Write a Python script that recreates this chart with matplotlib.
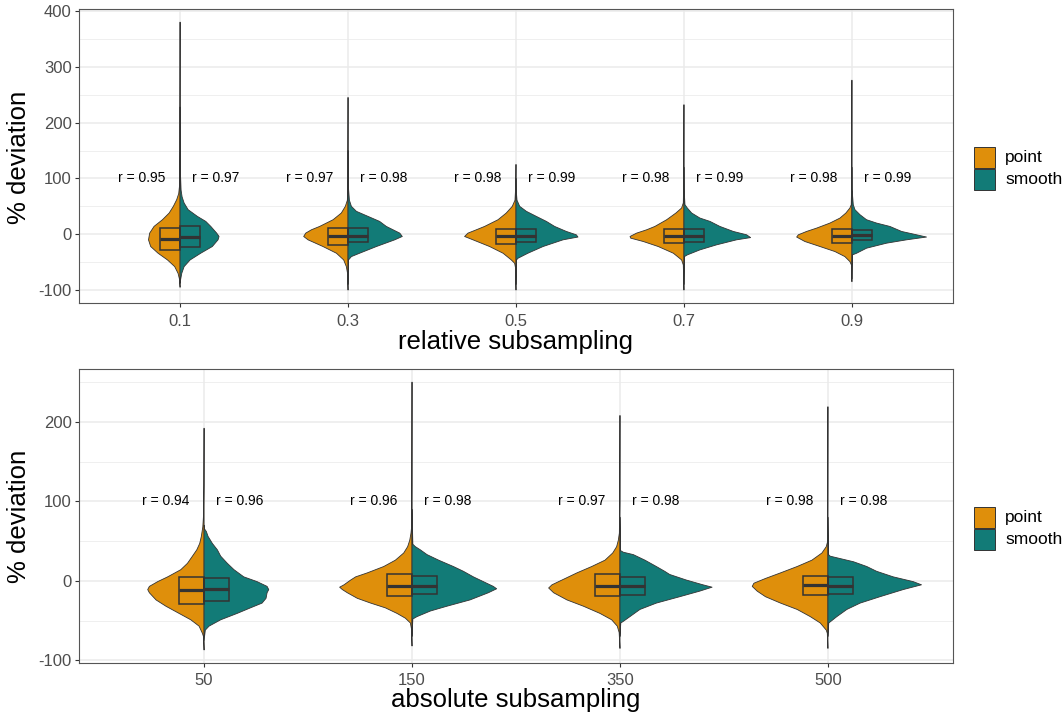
import matplotlib
matplotlib.use("Agg")
import matplotlib.pyplot as plt
from matplotlib.patches import Polygon, Rectangle
from matplotlib.lines import Line2D
from matplotlib.ticker import MultipleLocator

plt.rcParams['font.family'] = ['Liberation Sans', 'DejaVu Sans']
plt.rcParams['axes.unicode_minus'] = False

# ---------------------------------------------------------------- data
methods = ["point", "smooth"]
method_colors = ["#DF8F0B", "#127B77"]

rel_levels = ["0.1", "0.3", "0.5", "0.7", "0.9"]
abs_levels = ["50", "150", "350", "500"]

# correlation of each method with the full-data estimate
rel_r_point = [0.95, 0.97, 0.98, 0.98, 0.98]
rel_r_smooth = [0.97, 0.98, 0.99, 0.99, 0.99]
abs_r_point = [0.94, 0.96, 0.97, 0.98]
abs_r_smooth = [0.96, 0.98, 0.98, 0.98]

# quartiles of % deviation
rel_point_q1 = [-28, -19, -17, -16, -16]
rel_point_med = [-8, -3, -4, -3, -3]
rel_point_q3 = [12, 11, 9, 10, 9]
rel_smooth_q1 = [-23, -14, -14, -13, -11]
rel_smooth_med = [-5, -3, -3, -3, -2]
rel_smooth_q3 = [15, 11, 9, 9, 8]
abs_point_q1 = [-29, -19, -19, -18]
abs_point_med = [-11, -6, -6, -5]
abs_point_q3 = [5, 8, 8, 6]
abs_smooth_q1 = [-25, -17, -18, -17]
abs_smooth_med = [-10, -6, -6, -6]
abs_smooth_q3 = [3, 6, 5, 5]

# kernel density profiles: evaluation points and half-widths (scaled density)
rel_point_y = [
    [-95, -80, -70, -58, -46, -34, -22, -10, 2, 14, 26, 38, 50, 62, 73, 85, 150, 380],
    [-100, -70, -58, -46, -34, -22, -10, -4, 2, 8, 14, 26, 38, 50, 61, 100, 245],
    [-100, -60, -52, -46, -34, -22, -10, -4, 2, 8, 14, 26, 38, 50, 61, 90, 125],
    [-100, -55, -46, -34, -22, -13, -7, -4, 2, 8, 14, 26, 38, 47, 56, 100, 232],
    [-85, -55, -49, -40, -31, -22, -13, -5, -1, 5, 11, 20, 29, 38, 47, 53, 100, 276],
]
rel_point_w = [
    [0, .004, .012, .032, .075, .131, .175, .188, .181, .155, .105, .065, .040, .020, .008, .004, .001, 0],
    [0, .003, .010, .026, .069, .149, .238, .264, .252, .218, .169, .089, .040, .016, .004, .001, 0],
    [0, .003, .008, .028, .077, .157, .256, .306, .286, .236, .187, .107, .058, .022, .006, .001, 0],
    [0, .004, .014, .063, .153, .242, .317, .321, .282, .222, .173, .103, .048, .014, .004, .001, 0],
    [0, .003, .012, .042, .101, .190, .280, .329, .319, .270, .210, .131, .071, .036, .012, .004, .001, 0],
]
rel_smooth_y = [
    [-88, -80, -70, -58, -46, -34, -22, -10, -4, 2, 14, 23, 32, 44, 56, 67, 79, 120, 228],
    [-90, -46, -40, -34, -22, -10, -4, 2, 8, 14, 23, 32, 41, 50, 61, 90, 150],
    [-90, -46, -43, -34, -22, -10, -5, -1, 5, 14, 23, 32, 41, 50, 61, 80, 100],
    [-90, -40, -37, -28, -19, -10, -6, -1, 5, 14, 23, 29, 38, 47, 53, 80, 120],
    [-80, -37, -34, -25, -16, -10, -5, -1, 5, 14, 20, 26, 35, 44, 53, 80, 120],
]
rel_smooth_w = [
    [0, .004, .010, .024, .060, .123, .192, .226, .232, .218, .183, .153, .103, .048, .024, .012, .006, .001, 0],
    [0, .003, .020, .069, .169, .278, .323, .308, .268, .228, .188, .119, .050, .020, .008, .001, 0],
    [0, .003, .012, .071, .161, .280, .369, .359, .300, .230, .181, .121, .062, .022, .006, .001, 0],
    [0, .003, .020, .095, .194, .313, .397, .373, .294, .214, .155, .095, .046, .020, .006, .001, 0],
    [0, .003, .028, .087, .206, .325, .444, .385, .296, .226, .147, .087, .048, .018, .008, .001, 0],
]
abs_point_y = [
    [-87, -70, -66, -57, -49, -41, -32, -24, -15, -11, -7, -1, 5, 14, 22, 31, 39, 47, 56, 68, 81, 120, 192],
    [-82, -60, -53, -47, -41, -34, -28, -22, -15, -11, -8, -5, 1, 5, 10, 18, 26, 35, 43, 51, 60, 68, 120, 250],
    [-85, -65, -57, -49, -41, -32, -24, -15, -9, -5, 1, 10, 18, 26, 35, 43, 51, 60, 100, 208],
    [-85, -66, -62, -53, -45, -36, -28, -20, -13, -7, -3, 3, 10, 18, 26, 35, 43, 49, 100, 219],
]
abs_point_w = [
    [0, .003, .008, .024, .064, .120, .183, .231, .263, .271, .263, .223, .175, .112, .080, .056, .035, .021, .013, .006, .003, .001, 0],
    [0, .003, .008, .032, .072, .128, .199, .263, .311, .335, .348, .327, .295, .271, .215, .136, .080, .040, .021, .011, .005, .002, .001, 0],
    [0, .004, .013, .040, .096, .175, .255, .319, .343, .327, .279, .207, .136, .072, .035, .016, .008, .003, .001, 0],
    [0, .003, .008, .037, .085, .148, .228, .300, .340, .364, .356, .300, .228, .148, .077, .029, .008, .002, .001, 0],
]
abs_smooth_y = [
    [-75, -62, -57, -49, -41, -34, -28, -22, -15, -11, -7, -1, 5, 14, 22, 31, 39, 47, 56, 62, 65, 70],
    [-70, -48, -45, -38, -32, -24, -15, -10, -7, -1, 5, 12, 18, 26, 33, 39, 43, 46, 90],
    [-70, -53, -51, -45, -36, -28, -20, -13, -8, -5, 1, 8, 12, 18, 26, 33, 36, 38, 80],
    [-70, -53, -51, -45, -36, -28, -20, -11, -5, -1, 5, 12, 18, 24, 28, 31, 33, 80],
]
abs_smooth_w = [
    [0, .006, .024, .080, .159, .223, .279, .298, .303, .311, .303, .255, .191, .144, .112, .080, .064, .040, .019, .011, .003, 0],
    [0, .004, .024, .088, .167, .279, .367, .407, .391, .343, .295, .247, .199, .128, .072, .040, .016, .004, 0],
    [0, .004, .016, .048, .096, .175, .287, .383, .443, .399, .319, .239, .215, .175, .120, .064, .016, .003, 0],
    [0, .004, .014, .043, .091, .155, .250, .362, .450, .410, .314, .234, .187, .123, .059, .011, .003, 0],
]

# ---------------------------------------------------------------- style
EDGE = "#333333"
BORDER = "#555555"
GRID = "#EBEBEB"
TICK_TXT = "#4D4D4D"
BOX_HW = 0.12
W, H = 1064, 712


def half_violin(ax, xc, ys, ws, side, color):
    outer = [(xc + side * w, y) for y, w in zip(ys, ws)]
    inner = [(xc, y) for y in reversed(ys)]
    ax.add_patch(Polygon(outer + inner, closed=True, facecolor=color,
                         edgecolor=EDGE, linewidth=0.6, joinstyle="round",
                         zorder=3))


def half_box(ax, xc, q1, med, q3, side):
    x0 = xc - BOX_HW if side < 0 else xc
    ax.add_patch(Rectangle((x0, q1), BOX_HW, q3 - q1, facecolor="none",
                           edgecolor=EDGE, linewidth=1.1, zorder=4))
    ax.add_line(Line2D([x0, x0 + BOX_HW], [med, med], color=EDGE,
                       linewidth=2.3, solid_capstyle="butt", zorder=5))


def panel(ax, levels, dens, boxes, rvals, ylim, major, minor):
    n = len(levels)
    for m, side in ((0, -1), (1, 1)):
        ys_all, ws_all = dens[m]
        q1s, meds, q3s = boxes[m]
        for i in range(n):
            half_violin(ax, i + 1, ys_all[i], ws_all[i], side, method_colors[m])
            half_box(ax, i + 1, q1s[i], meds[i], q3s[i], side)
    for i in range(n):
        ax.annotate(f"r = {rvals[0][i]:.2f}", xy=(i + 1, 100),
                    xytext=(-10.8, 0), textcoords="offset points",
                    ha="right", va="center", fontsize=10, zorder=6)
        ax.annotate(f"r = {rvals[1][i]:.2f}", xy=(i + 1, 100),
                    xytext=(8.6, 0), textcoords="offset points",
                    ha="left", va="center", fontsize=10, zorder=6)

    ax.set_xlim(0.4, n + 0.6)
    ax.set_ylim(*ylim)
    ax.set_xticks(range(1, n + 1))
    ax.set_xticklabels(levels)
    ax.yaxis.set_major_locator(MultipleLocator(major))
    ax.yaxis.set_minor_locator(MultipleLocator(minor))
    ax.set_axisbelow(True)
    ax.grid(which="major", color=GRID, linewidth=1.1)
    ax.grid(which="minor", axis="y", color=GRID, linewidth=0.55)
    ax.tick_params(which="major", length=2.9, width=0.8, color=EDGE,
                   labelsize=12, labelcolor=TICK_TXT)
    ax.tick_params(axis="x", which="major", pad=4.5)
    ax.tick_params(axis="y", which="major", pad=2.5)
    ax.tick_params(which="minor", length=0)
    for s in ax.spines.values():
        s.set_color(BORDER)
        s.set_linewidth(0.8)


fig = plt.figure(figsize=(W / 100, H / 100), dpi=100)
left, right = 79.3, 952.7
ax1 = fig.add_axes([left / W, 1 - 303.3 / H, (right - left) / W, (303.3 - 9) / H])
ax2 = fig.add_axes([left / W, 1 - 662.7 / H, (right - left) / W, (662.7 - 369) / H])

panel(ax1, rel_levels,
      [(rel_point_y, rel_point_w), (rel_smooth_y, rel_smooth_w)],
      [(rel_point_q1, rel_point_med, rel_point_q3),
       (rel_smooth_q1, rel_smooth_med, rel_smooth_q3)],
      (rel_r_point, rel_r_smooth), (-123.7, 403.5), 100, 50)
panel(ax2, abs_levels,
      [(abs_point_y, abs_point_w), (abs_smooth_y, abs_smooth_w)],
      [(abs_point_q1, abs_point_med, abs_point_q3),
       (abs_smooth_q1, abs_smooth_med, abs_smooth_q3)],
      (abs_r_point, abs_r_smooth), (-103, 266.5), 100, 50)

# axis titles
fig.text(516 / W, 1 - 341.5 / H, "relative subsampling", ha="center", va="center",
         fontsize=18.5)
fig.text(516 / W, 1 - 700.5 / H, "absolute subsampling", ha="center", va="center",
         fontsize=18.5)
for yc in (157, 516):
    fig.text(19 / W, 1 - yc / H, "% deviation", ha="center", va="center",
             rotation=90, fontsize=18.5)

# legends
for top in (147, 507):
    for k, (name, col) in enumerate(zip(methods, method_colors)):
        y0 = top + k * 21.8
        fig.add_artist(Rectangle((974 / W, 1 - (y0 + 21) / H), 21 / W, 21 / H,
                                 transform=fig.transFigure, facecolor=col,
                                 edgecolor=EDGE, linewidth=0.7))
        fig.text(1005 / W, 1 - (y0 + 10.5) / H, name, ha="left", va="center",
                 fontsize=12.5)

fig.savefig("out.png", dpi=100)
